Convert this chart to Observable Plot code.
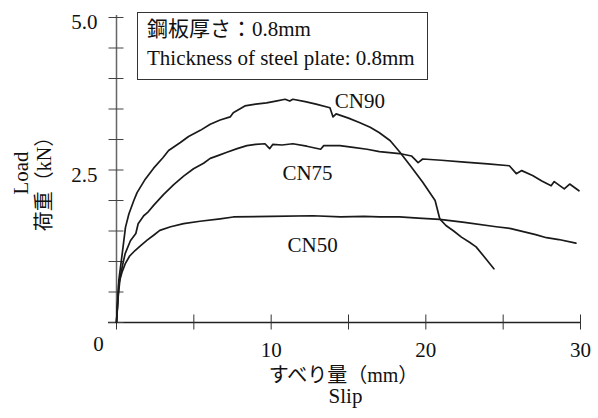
<!DOCTYPE html>
<html>
<head>
<meta charset="utf-8">
<script src="https://cdn.jsdelivr.net/npm/d3@7"></script>
<script src="https://cdn.jsdelivr.net/npm/@observablehq/plot@0.6"></script>
<style>
  html, body { margin: 0; padding: 0; background: #fff; }
  #wrap { position: relative; width: 598px; height: 418px; }
  #legend {
    position: absolute; left: 137px; top: 12px; width: 280px; height: 64px;
    border: 1.5px solid #333; box-sizing: content-box;
    font-family: 'Liberation Serif', 'Noto Sans CJK JP', serif; font-size: 21px;
    line-height: 29px; padding: 2px 0 0 9px; color: #111; white-space: nowrap;
  }
</style>
</head>
<body>
<div id="wrap"></div>
<script>
// ---- data ----
const seriesNames = ["CN90", "CN75", "CN50"];

const cn90Slip = [0, 0.15, 0.37, 0.58, 0.8, 1.12, 1.33, 1.86, 2.4, 3.0, 3.37, 4.13, 4.66, 5.42, 6.06, 6.7, 7.35, 7.55, 8.3, 9.0, 9.7, 10.3, 10.9, 11.2, 11.4, 12.2, 12.9, 13.8, 14.0, 14.2, 15.0, 15.7, 16.4, 17.0, 17.7, 18.3, 19.0, 19.8, 20.6, 20.9, 21.3, 21.8, 22.3, 22.8, 23.25, 23.8, 24.4];
const cn90Load = [0, 0.69, 1.13, 1.56, 1.78, 2.0, 2.13, 2.35, 2.53, 2.70, 2.82, 2.95, 3.05, 3.15, 3.25, 3.32, 3.37, 3.44, 3.55, 3.58, 3.60, 3.63, 3.66, 3.63, 3.66, 3.62, 3.58, 3.52, 3.37, 3.42, 3.35, 3.28, 3.20, 3.11, 2.98, 2.80, 2.57, 2.30, 2.0, 1.70, 1.59, 1.50, 1.40, 1.32, 1.24, 1.07, 0.88];

const cn75Slip = [0, 0.1, 0.24, 0.4, 0.56, 0.9, 1.25, 1.4, 1.76, 2.0, 2.4, 3.05, 3.7, 4.34, 4.98, 5.63, 6.06, 6.6, 7.14, 7.8, 8.43, 9.0, 9.6, 9.9, 10.1, 10.7, 11.4, 12.3, 13.2, 13.4, 14.45, 15.3, 16.2, 17.0, 18.3, 19.07, 19.5, 19.8, 21.0, 22.5, 24.0, 25.4, 25.85, 26.2, 26.9, 27.5, 28.1, 28.3, 28.95, 29.3, 29.9];
const cn75Load = [0, 0.4, 0.75, 0.95, 1.13, 1.34, 1.46, 1.62, 1.75, 1.80, 1.92, 2.10, 2.26, 2.40, 2.52, 2.61, 2.69, 2.74, 2.79, 2.85, 2.90, 2.92, 2.93, 2.85, 2.92, 2.91, 2.93, 2.89, 2.84, 2.90, 2.90, 2.87, 2.84, 2.80, 2.77, 2.73, 2.62, 2.68, 2.66, 2.63, 2.60, 2.57, 2.44, 2.49, 2.41, 2.32, 2.24, 2.31, 2.19, 2.27, 2.16];

const cn50Slip = [0, 0.15, 0.35, 0.56, 0.85, 1.2, 1.6, 1.98, 2.4, 2.8, 3.5, 4.34, 5.4, 6.7, 7.55, 10.0, 12.7, 14.5, 16.0, 17.0, 18.3, 19.5, 20.9, 22.5, 24.55, 25.5, 26.3, 27.1, 27.8, 28.6, 29.7];
const cn50Load = [0, 0.64, 0.82, 0.96, 1.09, 1.18, 1.27, 1.35, 1.43, 1.51, 1.57, 1.62, 1.66, 1.70, 1.73, 1.74, 1.75, 1.73, 1.74, 1.73, 1.73, 1.71, 1.69, 1.64, 1.57, 1.54, 1.49, 1.44, 1.39, 1.36, 1.30];

// series label positions (slip, load)
const labelSlip = [15.74, 12.35, 12.68];
const labelLoad = [3.62, 2.44, 1.26];

const xTicks = [0, 5, 10, 15, 20, 25, 30];
const xTickLabels = [10, 20, 30];
const yTicks = [0, 0.5, 1, 1.5, 2, 2.5, 3, 3.5, 4, 4.5, 5];
const yTickLabels = [2.5, 5.0];

const xLabelJa = "すべり量（mm）";
const xLabelEn = "Slip";
const yLabelJa = "荷重（kN）";
const yLabelEn = "Load";
const legendLines = ["鋼板厚さ：0.8mm", "Thickness of steel plate: 0.8mm"];

// ---- build table ----
const slips = [cn90Slip, cn75Slip, cn50Slip];
const loads = [cn90Load, cn75Load, cn50Load];
const rows = [];
seriesNames.forEach((s, i) => slips[i].forEach((x, j) => rows.push({series: s, slip: x, load: loads[i][j]})));
const labels = seriesNames.map((s, i) => ({series: s, slip: labelSlip[i], load: labelLoad[i]}));

const font = "'Liberation Serif', 'Noto Sans CJK JP', serif";
const fs = 21;

const chart = Plot.plot({
  width: 598,
  height: 418,
  marginLeft: 116,
  marginRight: 18,
  marginTop: 17,
  marginBottom: 96,
  style: {fontFamily: font, fontSize: "21px", color: "#111", background: "#fff"},
  x: {domain: [0, 30]},
  y: {domain: [0, 5]},
  marks: [
    // axis lines
    Plot.ruleY([0], {stroke: "#222", strokeWidth: 1.3, insetLeft: -8, insetRight: -1}),
    Plot.ruleX([0], {stroke: "#666", strokeWidth: 1.5, insetTop: -2}),
    // crossing ticks
    Plot.axisX(xTicks, {tickSize: 15, dy: -7.5, fill: "none", stroke: "#333", label: null}),
    Plot.axisY(yTicks, {tickSize: 15, dx: 7.5, fill: "none", stroke: "#444", label: null}),
    // tick labels
    Plot.axisX(xTickLabels, {tickSize: 0, tickPadding: 20, label: null, fill: "#111", fontSize: fs}),
    Plot.axisY(yTickLabels, {tickSize: 0, tickPadding: 19, dy: 5, tickFormat: d3.format(".1f"), label: null, fill: "#111", fontSize: fs}),
    Plot.text(["0"], {text: d => d, frameAnchor: "bottom-left", textAnchor: "middle", dx: -18, dy: 28, fill: "#111", fontSize: fs}),
    // axis titles
    Plot.text([xLabelJa], {text: d => d, frameAnchor: "bottom", textAnchor: "middle", dx: -5, dy: 59, fill: "#111", fontSize: 20}),
    Plot.text([xLabelEn], {text: d => d, frameAnchor: "bottom", textAnchor: "middle", dx: -3, dy: 80, fill: "#111", fontSize: 21}),
    Plot.text([yLabelEn], {text: d => d, frameAnchor: "left", textAnchor: "middle", rotate: -90, dx: -95, dy: 3, fill: "#111", fontSize: 21}),
    Plot.text([yLabelJa], {text: d => d, frameAnchor: "left", textAnchor: "middle", rotate: -90, dx: -72, dy: 9, fill: "#111", fontSize: 20}),
    // curves
    Plot.line(rows, {x: "slip", y: "load", z: "series", stroke: "#1a1a1a", strokeWidth: 1.7, strokeLinejoin: "round"}),
    Plot.text(labels, {x: "slip", y: "load", text: "series", fill: "#111", fontSize: fs})
  ]
});

const wrap = document.getElementById("wrap");
wrap.appendChild(chart);
const legend = document.createElement("div");
legend.id = "legend";
legend.innerHTML = legendLines.map(t => `<div>${t}</div>`).join("");
wrap.appendChild(legend);
</script>
</body>
</html>
